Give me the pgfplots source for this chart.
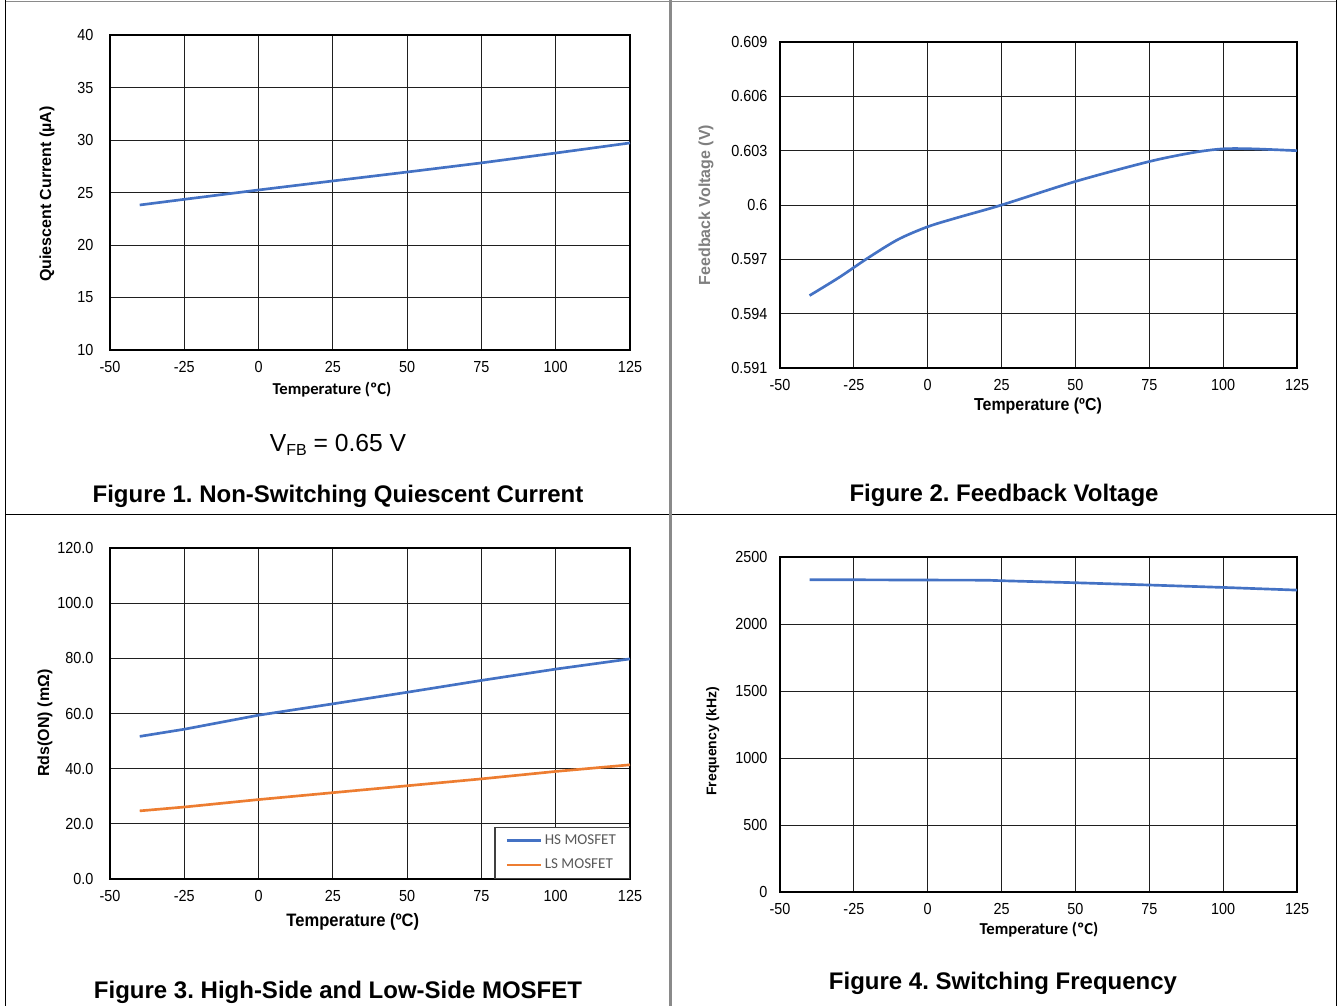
\documentclass[border=0pt]{standalone}
\usepackage{fontspec}
\setmainfont{Liberation Sans}
\newfontfamily\narrowfont[FakeStretch=0.9]{Liberation Sans}
\newfontfamily\narrowlabel[FakeStretch=0.92]{Liberation Sans}
\newfontfamily\calibri{Carlito}
\usepackage{pgfplots}
\pgfplotsset{compat=1.18}
\frenchspacing

\definecolor{xlblue}{HTML}{4472C4}
\definecolor{xlorange}{HTML}{ED7D31}
\definecolor{lblgray}{HTML}{7F7F7F}
\definecolor{leggray}{HTML}{595959}
\definecolor{divgray}{HTML}{8A8A8A}

% common look of the four temperature panels
\pgfplotsset{
  panel/.style={
    scale only axis,
    anchor=south west,
    xmin=-50, xmax=125,
    xtick={-50,-25,0,25,50,75,100,125},
    xticklabels={-50,-25,0,25,50,75,100,125},
    grid=major,
    major grid style={black!88, line width=0.75pt},
    axis line style={black, line width=1.5pt},
    major tick length=0pt,
    tick label style={font=\narrowfont\fontsize{12}{14}\selectfont},
    xticklabel style={yshift=-5pt},
    every axis plot/.append style={line width=2pt},
  },
}

\begin{document}
\begin{tikzpicture}
\path[use as bounding box] (0pt,0pt) rectangle (1003.5pt,-754.5pt);

% panel frame
\draw[divgray, line width=1pt] (3.75pt,-1.1pt) -- (1002pt,-1.1pt);
\draw[black, line width=0.75pt] (3.75pt,0pt) -- (3.75pt,-754.5pt);
\draw[black, line width=0.75pt] (1002pt,0pt) -- (1002pt,-754.5pt);
\draw[black, line width=0.75pt] (3.75pt,-385.5pt) -- (1002pt,-385.5pt);
\draw[divgray, line width=1.9pt] (503pt,0pt) -- (503pt,-754.5pt);

% Figure 1: quiescent current
\begin{axis}[panel,
  at={(82.5pt,-262.5pt)}, width=390pt, height=236.25pt,
  ymin=10, ymax=40, ytick={10,15,20,25,30,35,40},
  yticklabels={10,15,20,25,30,35,40},
  yticklabel style={xshift=-9pt},
  ylabel={Quiescent Current (µA)},
  ylabel style={at={(axis description cs:-0.121,0.495)}, anchor=center,
    font=\bfseries\fontsize{12}{14}\selectfont},
  xlabel={Temperature (ºC)},
  xlabel style={at={(axis description cs:0.427,-0.127)}, anchor=center,
    font=\calibri\bfseries\fontsize{12.5}{14}\selectfont},
]
\addplot[xlblue] coordinates {
  (-40,23.81) (-25,24.35) (0,25.24) (25,26.10) (50,26.95)
  (75,27.82) (100,28.76) (125,29.72)};
\end{axis}

% Figure 2: feedback voltage
\begin{axis}[panel,
  at={(585pt,-276pt)}, width=387.75pt, height=244.5pt,
  ymin=0.591, ymax=0.609,
  ytick={0.591,0.594,0.597,0.6,0.603,0.606,0.609},
  yticklabels={0.591,0.594,0.597,0.6,0.603,0.606,0.609},
  yticklabel style={xshift=-6pt},
  ylabel={Feedback Voltage (V)},
  ylabel style={at={(axis description cs:-0.143,0.5)}, anchor=center,
    text=lblgray, font=\bfseries\fontsize{12}{14}\selectfont},
  xlabel={Temperature (ºC)},
  xlabel style={at={(axis description cs:0.499,-0.117)}, anchor=center,
    font=\narrowlabel\bfseries\fontsize{13}{15}\selectfont},
]
\addplot[xlblue, smooth] coordinates {
  (-40,0.5950) (-30,0.5960) (-20,0.5971) (-10,0.5981) (0,0.5988)
  (10,0.5993) (25,0.6000) (50,0.6013) (75,0.6024) (90,0.6029)
  (100,0.6031) (110,0.6031) (125,0.6030)};
\end{axis}

% Figure 3: on-resistance of both switches
\begin{axis}[panel,
  at={(82.5pt,-659.25pt)}, width=390pt, height=248.25pt,
  ymin=0, ymax=120, ytick={0,20,40,60,80,100,120},
  yticklabels={0.0,20.0,40.0,60.0,80.0,100.0,120.0},
  yticklabel style={xshift=-9pt},
  ylabel={Rds(ON) (mΩ)},
  ylabel style={at={(axis description cs:-0.125,0.471)}, anchor=center,
    font=\bfseries\fontsize{12}{14}\selectfont},
  xlabel={Temperature (ºC)},
  xlabel style={at={(axis description cs:0.467,-0.13)}, anchor=center,
    font=\narrowlabel\bfseries\fontsize{13.5}{15}\selectfont},
  legend style={at={(rel axis cs:1,0)}, anchor=south east,
    draw=black!75, line width=1.1pt, fill=white,
    font=\calibri\fontsize{11.3}{13}\selectfont, text=leggray,
    inner xsep=8pt, inner ysep=3.5pt, row sep=5.5pt},
  legend cell align=left,
  legend image code/.code={\draw[#1, line width=2pt] (0pt,0pt) -- (25.5pt,0pt);},
]
\addplot[xlblue] coordinates {
  (-40,51.7) (-25,54.3) (0,59.4) (25,63.5) (50,67.7)
  (75,72.0) (100,76.1) (125,79.8)};
\addlegendentry{HS MOSFET}
\addplot[xlorange] coordinates {
  (-40,24.7) (-25,26.1) (0,28.8) (25,31.3) (50,33.8)
  (75,36.3) (100,39.0) (125,41.4)};
\addlegendentry{LS MOSFET}
\end{axis}

% Figure 4: switching frequency
\begin{axis}[panel,
  at={(585pt,-669pt)}, width=387.75pt, height=251.25pt,
  ymin=0, ymax=2500, ytick={0,500,1000,1500,2000,2500},
  yticklabels={0,500,1000,1500,2000,2500},
  yticklabel style={xshift=-6pt},
  ylabel={Frequency (kHz)},
  ylabel style={at={(axis description cs:-0.13,0.45)}, anchor=center,
    font=\bfseries\fontsize{10.5}{12}\selectfont},
  xlabel={Temperature (ºC)},
  xlabel style={at={(axis description cs:0.501,-0.113)}, anchor=center,
    font=\calibri\bfseries\fontsize{12.5}{14}\selectfont},
]
\addplot[xlblue] coordinates {
  (-40,2330) (-25,2330) (0,2328) (20,2327) (25,2323) (50,2308)
  (75,2291) (100,2273) (125,2253)};
\end{axis}

% captions
\node[font=\fontsize{18.5}{20}\selectfont] at (253.5pt,-333.75pt)
  {V\raisebox{-0.3ex}{\fontsize{12}{12}\selectfont FB} = 0.65 V};
\node[font=\bfseries\fontsize{18}{20}\selectfont] at (253.5pt,-372pt)
  {Figure 1. Non-Switching Quiescent Current};
\node[font=\bfseries\fontsize{18}{20}\selectfont] at (753pt,-371.25pt)
  {Figure 2. Feedback Voltage};
\node[font=\bfseries\fontsize{18}{20}\selectfont] at (253.5pt,-744pt)
  {Figure 3. High-Side and Low-Side MOSFET};
\node[font=\bfseries\fontsize{18}{20}\selectfont] at (752.25pt,-737.25pt)
  {Figure 4. Switching Frequency};
\end{tikzpicture}
\end{document}
